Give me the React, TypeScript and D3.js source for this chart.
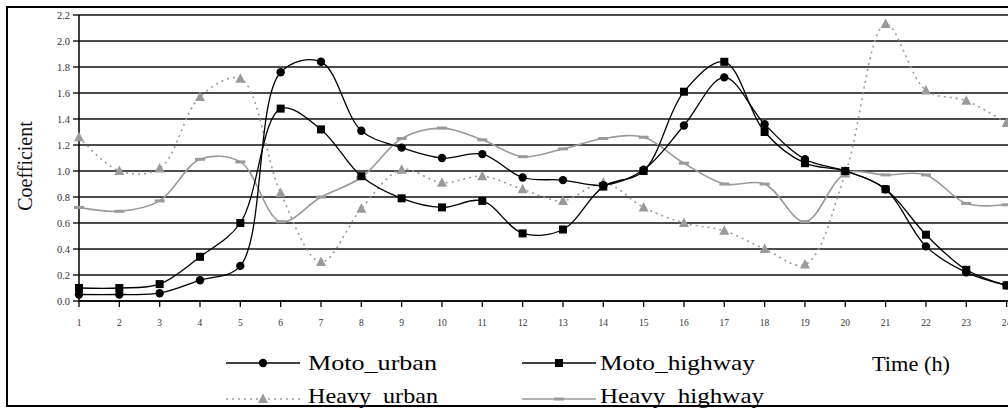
import React from "react";
import * as d3 from "d3";

const hours = [1,2,3,4,5,6,7,8,9,10,11,12,13,14,15,16,17,18,19,20,21,22,23,24];
const motoUrban = [0.05,0.05,0.06,0.16,0.27,1.76,1.84,1.31,1.18,1.10,1.13,0.95,0.93,0.89,1.01,1.35,1.72,1.36,1.09,1.00,0.86,0.42,0.22,0.12];
const motoHighway = [0.10,0.10,0.13,0.34,0.60,1.48,1.32,0.96,0.79,0.72,0.77,0.52,0.55,0.88,1.00,1.61,1.84,1.30,1.06,1.00,0.86,0.51,0.24,0.12];
const heavyUrban = [1.26,1.00,1.02,1.57,1.71,0.83,0.30,0.71,1.01,0.91,0.96,0.86,0.77,0.91,0.72,0.60,0.54,0.40,0.28,0.98,2.13,1.62,1.54,1.37];
const heavyHighway = [0.72,0.69,0.77,1.09,1.07,0.61,0.80,0.95,1.25,1.33,1.24,1.11,1.17,1.25,1.26,1.06,0.90,0.90,0.61,0.98,0.97,0.97,0.75,0.74];
const yTicks = [0,0.2,0.4,0.6,0.8,1.0,1.2,1.4,1.6,1.8,2.0,2.2];
const legendNames = ["Moto_urban","Moto_highway","Heavy_urban","Heavy_highway"];

const GRAY = "#9a9a9a";
const SERIF = "'Liberation Serif', 'DejaVu Serif', serif";

type Kind = "circle" | "square" | "triangle" | "dash";

function Marker({ kind, cx, cy }: { kind: Kind; cx: number; cy: number }) {
  if (kind === "circle") return <circle cx={cx} cy={cy} r={4.2} fill="#000" />;
  if (kind === "square") return <rect x={cx - 4} y={cy - 4} width={8} height={8} fill="#000" />;
  if (kind === "triangle")
    return <path d={`M${cx},${cy - 5.5}L${cx + 5},${cy + 4}L${cx - 5},${cy + 4}Z`} fill={GRAY} />;
  return <rect x={cx - 5} y={cy - 1.5} width={10} height={3} fill={GRAY} />;
}

export default function App() {
  const x = d3.scaleLinear().domain([1, 24]).range([79, 1006.6]);
  const y = d3.scaleLinear().domain([0, 2.2]).range([301, 15]);
  const line = d3
    .line<number>()
    .x((_, i) => x(hours[i]))
    .y((d) => y(d))
    .curve(d3.curveCatmullRom.alpha(0.5));

  const series: { name: string; data: number[]; kind: Kind; stroke: string; width: number; dash?: string }[] = [
    { name: legendNames[2], data: heavyUrban, kind: "triangle", stroke: GRAY, width: 1.6, dash: "2,4" },
    { name: legendNames[3], data: heavyHighway, kind: "dash", stroke: GRAY, width: 1.6 },
    { name: legendNames[1], data: motoHighway, kind: "square", stroke: "#000", width: 1.3 },
    { name: legendNames[0], data: motoUrban, kind: "circle", stroke: "#000", width: 1.3 },
  ];

  const legendItems = [
    { name: legendNames[0], kind: "circle" as Kind, stroke: "#000", dash: undefined, lx: 226, tx: 308, ly: 363, ty: 370, len: 129 },
    { name: legendNames[1], kind: "square" as Kind, stroke: "#000", dash: undefined, lx: 522, tx: 600, ly: 363, ty: 370, len: 155 },
    { name: legendNames[2], kind: "triangle" as Kind, stroke: GRAY, dash: "2,4", lx: 226, tx: 308, ly: 399, ty: 403, len: 130 },
    { name: legendNames[3], kind: "dash" as Kind, stroke: GRAY, dash: undefined, lx: 522, tx: 600, ly: 399, ty: 403, len: 164 },
  ];

  return (
    <svg
      width={1008}
      height={408}
      style={{ position: "absolute", left: 0, top: 0, background: "#fff" }}
    >
      <rect x={0} y={0} width={1008} height={408} fill="#fff" />
      {/* frame */}
      <rect x={7} y={7} width={1020} height={399} fill="none" stroke="#000" strokeWidth={2} />

      {/* gridlines */}
      {yTicks.map((t) => (
        <line key={"g" + t} x1={x(1)} x2={1010} y1={y(t)} y2={y(t)} stroke="#111" strokeWidth={t === 0 ? 1.8 : 1.5} />
      ))}
      {/* y axis */}
      <line x1={x(1)} x2={x(1)} y1={y(2.2)} y2={y(0)} stroke="#000" strokeWidth={1.5} />
      {yTicks.map((t) => (
        <g key={"yt" + t}>
          <line x1={x(1) - 6} x2={x(1)} y1={y(t)} y2={y(t)} stroke="#000" strokeWidth={1.3} />
          <text x={70} y={y(t)} dy="0.35em" textAnchor="end" fontFamily={SERIF} fontSize={10.5} fill="#333">
            {t.toFixed(1)}
          </text>
        </g>
      ))}
      {/* x ticks */}
      {hours.map((h) => (
        <g key={"xt" + h}>
          <line x1={x(h)} x2={x(h)} y1={y(0)} y2={y(0) + 6} stroke="#000" strokeWidth={1.3} />
          <text x={x(h)} y={326} textAnchor="middle" fontFamily={SERIF} fontSize={9.5} fill="#333">
            {h}
          </text>
        </g>
      ))}

      {/* axis title */}
      <text
        transform={`translate(32,166) rotate(-90)`}
        textAnchor="middle"
        fontFamily={SERIF}
        fontSize={20}
        fill="#111"
      >
        Coefficient
      </text>

      {/* series */}
      {series.map((s) => (
        <g key={s.name}>
          <path d={line(s.data) || ""} fill="none" stroke={s.stroke} strokeWidth={s.width} strokeDasharray={s.dash} />
          {s.data.map((v, i) => (
            <Marker key={i} kind={s.kind} cx={x(hours[i])} cy={y(v)} />
          ))}
        </g>
      ))}

      {/* legend */}
      {legendItems.map((it) => (
        <g key={"lg" + it.name}>
          <line x1={it.lx} x2={it.lx + 74} y1={it.ly} y2={it.ly} stroke={it.stroke} strokeWidth={1.5} strokeDasharray={it.dash} />
          <Marker kind={it.kind} cx={it.lx + 37} cy={it.ly} />
          <text x={it.tx} y={it.ty} fontFamily={SERIF} fontSize={22} fill="#000" textLength={it.len} lengthAdjust="spacingAndGlyphs">
            {it.name}
          </text>
        </g>
      ))}
      <text x={872} y={371} fontFamily={SERIF} fontSize={22} fill="#000" textLength={78} lengthAdjust="spacingAndGlyphs">
        Time (h)
      </text>
    </svg>
  );
}
